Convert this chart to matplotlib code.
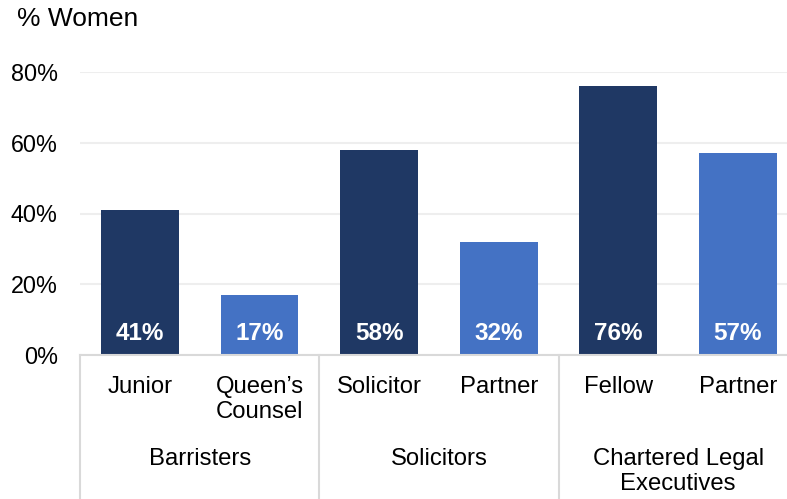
import matplotlib
matplotlib.use("Agg")
import matplotlib.pyplot as plt
from matplotlib.lines import Line2D

categories = ["Junior", "Queen\u2019s\nCounsel", "Solicitor", "Partner", "Fellow", "Partner"]
values = [41, 17, 58, 32, 76, 57]
groups = ["Barristers", "Solicitors", "Chartered Legal\nExecutives"]
group_sizes = [2, 2, 2]
yticks = [0, 20, 40, 60, 80]
dark = "#1F3864"
light = "#4472C4"
colors = [dark, light, dark, light, dark, light]

plt.rcParams['font.family'] = ['Liberation Sans', 'DejaVu Sans']
W, H = 787, 499
fig = plt.figure(figsize=(W / 100, H / 100), dpi=100)
left_px, right_px, top_px, bottom_px = 80, 797.8, 72, 355
ax = fig.add_axes([left_px / W, 1 - bottom_px / H, (right_px - left_px) / W, (bottom_px - top_px) / H])
axh = bottom_px - top_px

x = list(range(len(values)))
ax.bar(x, values, width=0.65, color=colors, zorder=3)
ax.set_xlim(-0.5, len(values) - 0.5)
ax.set_ylim(0, 80)
ax.set_yticks(yticks)
ax.set_yticklabels([f"{v}%" for v in yticks], fontsize=16.8)
ax.tick_params(axis='y', length=0, pad=16)
ax.set_xticks([])
for s in ['top', 'right', 'left']:
    ax.spines[s].set_visible(False)
ax.spines['bottom'].set_color('#d9d9d9')
ax.spines['bottom'].set_linewidth(1.5)
ax.spines['bottom'].set_zorder(4)
ax.grid(axis='y', color='#eeeeee', linewidth=1.5, zorder=0)
ax.set_axisbelow(True)

for xi, v in zip(x, values):
    ax.annotate(f"{v}%", (xi, 0), xytext=(0, 11), textcoords='offset points',
                ha='center', va='baseline', color='white', fontsize=17.5, fontweight='bold', zorder=5)

tr = ax.get_xaxis_transform()
for xi, c in zip(x, categories):
    ax.text(xi, -21 / axh, c, transform=tr, ha='center', va='top', fontsize=17.2,
            linespacing=1.2)

start = 0
bounds = [-0.5]
for g, n in zip(groups, group_sizes):
    center = start + (n - 1) / 2
    ax.text(center, -93 / axh, g, transform=tr, ha='center', va='top', fontsize=17.2,
            linespacing=1.2)
    start += n
    bounds.append(start - 0.5)

for b in bounds:
    ax.add_line(Line2D([b, b], [0, -150 / axh], transform=tr, color='#d9d9d9',
                       linewidth=1.5, clip_on=False))

fig.text(17 / W, 1 - 19 / H, "% Women", fontsize=19, ha='left', va='center')

fig.savefig("out.png", dpi=100)
